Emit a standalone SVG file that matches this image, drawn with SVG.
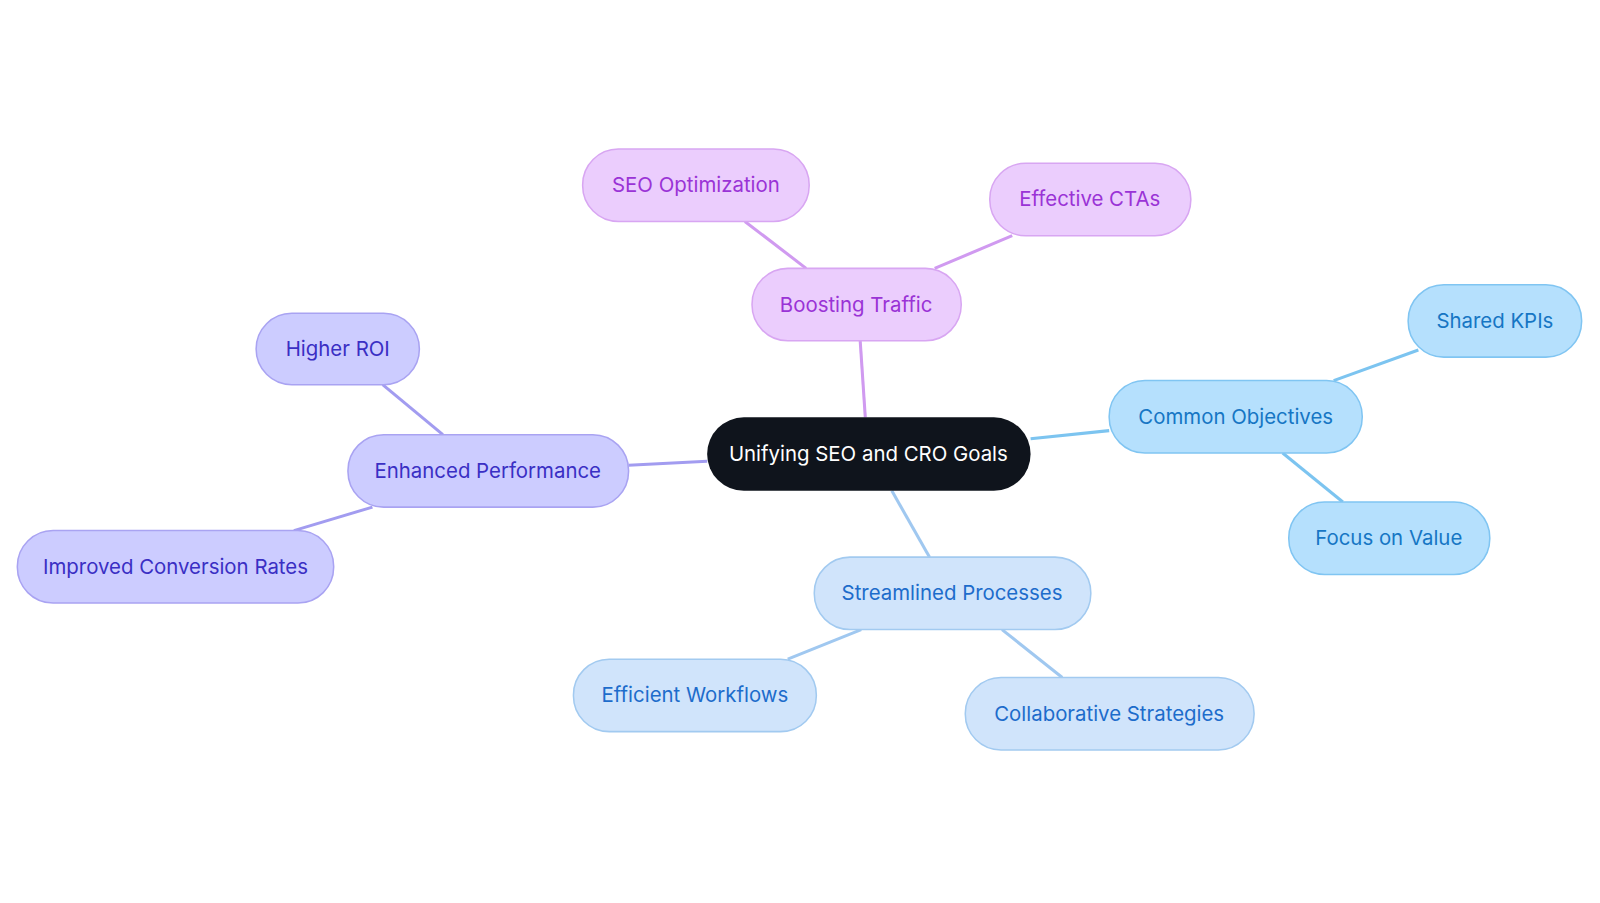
<svg xmlns="http://www.w3.org/2000/svg" width="1600" height="903" viewBox="0 0 1600 903">
<style>
text{font-family:Inter,"Noto Sans",sans-serif;font-size:20px;text-anchor:middle;dominant-baseline:central}
.p rect{fill:#ebcdfd;stroke:#d8a6f2;stroke-width:1.5}.p text{fill:#9a33d6}
.i rect{fill:#ccccff;stroke:#a9a3f2;stroke-width:1.5}.i text{fill:#3a2fc4}
.b rect{fill:#b5e0fd;stroke:#80c5f2;stroke-width:1.5}.b text{fill:#1676c4}
.s rect{fill:#d0e4fb;stroke:#a2caf0;stroke-width:1.5}.s text{fill:#1d6ccb}
#edges line{stroke-width:3}
</style>
<rect width="1600" height="903" fill="#fff"/>
<g transform="scale(1.0204)">
<g id="edges">
<line x1="848" y1="409" x2="843" y2="334" stroke="#d09af0"/>
<line x1="790" y1="263" x2="730" y2="217" stroke="#d09af0"/>
<line x1="916" y1="263" x2="992" y2="231" stroke="#d09af0"/>
<line x1="693" y1="452" x2="616" y2="456" stroke="#a29cf0"/>
<line x1="434" y1="426" x2="375" y2="377" stroke="#a29cf0"/>
<line x1="365" y1="497" x2="288" y2="520" stroke="#a29cf0"/>
<line x1="1010" y1="430" x2="1087" y2="422" stroke="#7cc4f0"/>
<line x1="1307" y1="373" x2="1390" y2="343" stroke="#7cc4f0"/>
<line x1="1257" y1="444" x2="1316" y2="492" stroke="#7cc4f0"/>
<line x1="874" y1="481" x2="911" y2="546" stroke="#a0c8f0"/>
<line x1="844" y1="617" x2="772" y2="646" stroke="#a0c8f0"/>
<line x1="982" y1="617" x2="1041" y2="664" stroke="#a0c8f0"/>
</g>
<g id="center"><rect x="693" y="409" width="317" height="72" rx="36" fill="#0f141c"/><text x="851" y="444" fill="#fff">Unifying SEO and CRO Goals</text></g>
<g id="boosting" class="p"><rect x="737" y="263" width="205" height="71" rx="35"/><text x="839" y="298">Boosting Traffic</text></g>
<g id="seo" class="p"><rect x="571" y="146" width="222" height="71" rx="35"/><text x="682" y="181">SEO Optimization</text></g>
<g id="ctas" class="p"><rect x="970" y="160" width="197" height="71" rx="35"/><text x="1068" y="195">Effective CTAs</text></g>
<g id="enhanced" class="i"><rect x="341" y="426" width="275" height="71" rx="35"/><text x="478" y="461">Enhanced Performance</text></g>
<g id="roi" class="i"><rect x="251" y="307" width="160" height="70" rx="35"/><text x="331" y="342">Higher ROI</text></g>
<g id="conv" class="i"><rect x="17" y="520" width="310" height="71" rx="35"/><text x="172" y="555">Improved Conversion Rates</text></g>
<g id="common" class="b"><rect x="1087" y="373" width="248" height="71" rx="35"/><text x="1211" y="408">Common Objectives</text></g>
<g id="kpis" class="b"><rect x="1380" y="279" width="170" height="71" rx="35"/><text x="1465" y="314">Shared KPIs</text></g>
<g id="value" class="b"><rect x="1263" y="492" width="197" height="71" rx="35"/><text x="1361" y="527">Focus on Value</text></g>
<g id="streamlined" class="s"><rect x="798" y="546" width="271" height="71" rx="35"/><text x="933" y="581">Streamlined Processes</text></g>
<g id="workflows" class="s"><rect x="562" y="646" width="238" height="71" rx="35"/><text x="681" y="681">Efficient Workflows</text></g>
<g id="collab" class="s"><rect x="946" y="664" width="283" height="71" rx="35"/><text x="1087" y="699">Collaborative Strategies</text></g>
</g>
</svg>
